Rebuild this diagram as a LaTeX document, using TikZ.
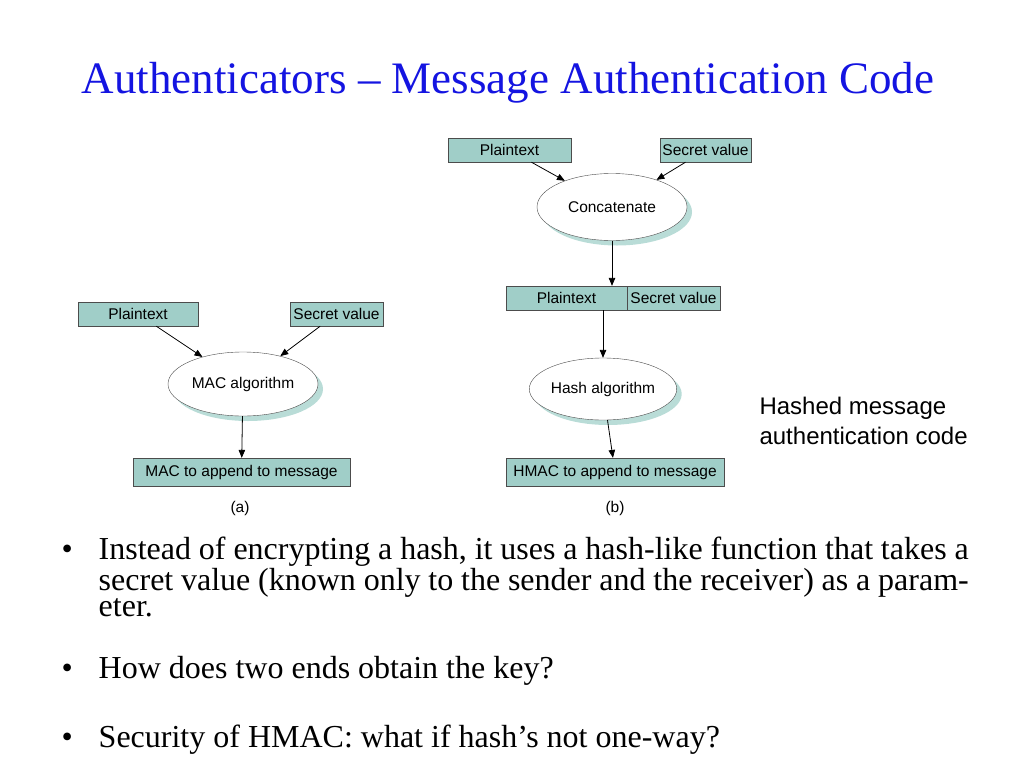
\documentclass[tikz,border=0pt]{standalone}
\usepackage{fontspec}
\setmainfont{Liberation Serif}
\newfontfamily\diagfont{Liberation Sans}
\usepackage{xcolor}
\usetikzlibrary{shadows}
\usetikzlibrary{arrows,shapes}
\definecolor{boxteal}{RGB}{160,206,200}
\definecolor{shadeteal}{RGB}{185,220,215}
\definecolor{titleblue}{RGB}{20,20,225}
\tikzstyle{inbox}=[rectangle,draw=black!70,fill=boxteal,inner sep=0pt,minimum height=24pt,font=\diagfont\fontsize{15.5}{17}\selectfont]
\tikzstyle{outbox}=[inbox,minimum height=28pt]
\tikzstyle{algo}=[ellipse,draw=black!70,fill=white,inner sep=0pt,font=\diagfont\fontsize{15.5}{17}\selectfont,drop shadow={fill=shadeteal,opacity=1,shadow xshift=5pt,shadow yshift=-5pt}]
\tikzstyle{edge} = [draw,thick,-triangle 45]
\tikzstyle{caption} = [font=\diagfont\fontsize{15.5}{17}\selectfont]
\tikzstyle{bullettext} = [anchor=west,font=\fontsize{32}{26}\selectfont,align=left]

\begin{document}
\begin{tikzpicture}[x=1pt,y=-1pt]
\useasboundingbox (0,0) rectangle (1024,768);

\node[font=\fontsize{45}{48}\selectfont,text=titleblue] (title) at (508,83) {Authenticators -- Message Authentication Code};

%(a)
\node[inbox,minimum width=120pt] (aplain) at (138,314) {Plaintext};
\node[inbox,minimum width=93pt] (asecret) at (336.5,314) {Secret value};
\node[algo,minimum width=150pt,minimum height=64pt] (mac) at (243,384) {MAC algorithm};
\node[outbox,minimum width=217pt] (macout) at (241.5,472) {MAC to append to message};
\node[caption] (capa) at (240,508) {(a)};

\foreach \source/ \dest in {aplain/mac, asecret/mac, mac/macout}
    \path[edge] (\source) -- (\dest);

%(b)
\node[inbox,minimum width=123pt] (bplain) at (509.5,150) {Plaintext};
\node[inbox,minimum width=91pt] (bsecret) at (705.5,150) {Secret value};
\node[algo,minimum width=150pt,minimum height=67pt] (concat) at (612,207) {Concatenate};
\node[inbox,minimum width=121pt] (cplain) at (566.5,298) {Plaintext};
\node[inbox,minimum width=93pt] (csecret) at (673.5,298) {Secret value};
\node[algo,minimum width=127pt,minimum height=62pt] (hash) at (603,389) {Hash algorithm};
\node[outbox,minimum width=218pt] (hmacout) at (615,472) {HMAC to append to message};
\node[caption] (capb) at (615,508) {(b)};

\foreach \source/ \dest in {bplain/concat, bsecret/concat, hash/hmacout}
    \path[edge] (\source) -- (\dest);
\path[edge] (concat.south) -- (concat.south |- cplain.north);
\path[edge] (hash.north |- cplain.south) -- (hash.north);

\node[anchor=west,align=left,font=\diagfont\fontsize{24}{30}\selectfont] (hmacnote) at (756,421) {Hashed message\\authentication code};

% bullets
\node[bullettext] (b1) at (58,577) {\textbullet\hspace{26pt}\parbox[t]{870pt}{Instead of encrypting a hash, it uses a hash-like function that takes a secret value (known only to the sender and the receiver) as a parameter.}};
\node[bullettext] (b2) at (58,671) {\textbullet\hspace{26pt}How does two ends obtain the key?};
\node[bullettext] (b3) at (58,740) {\textbullet\hspace{26pt}Security of HMAC: what if hash’s not one-way?};
\end{tikzpicture}
\end{document}
